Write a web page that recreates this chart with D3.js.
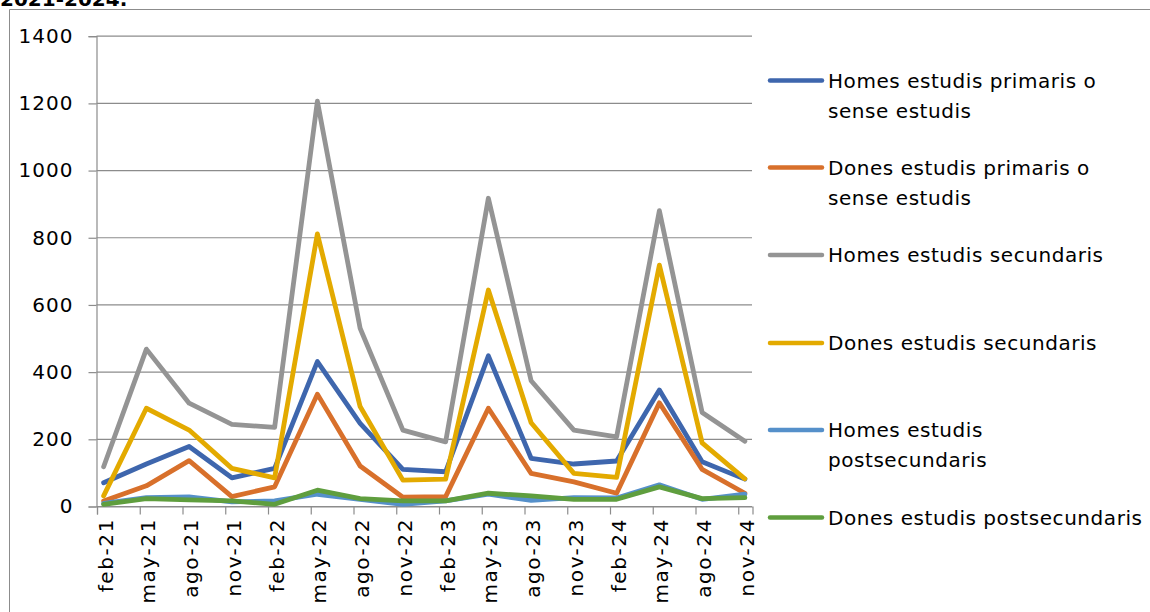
<!DOCTYPE html>
<html>
<head>
<meta charset="utf-8">
<script src="https://cdn.jsdelivr.net/npm/d3@7"></script>
<style>
  html, body { margin: 0; padding: 0; background: #fff; }
  svg { display: block; }
  text { font-family: "DejaVu Sans", sans-serif; fill: #000; }
</style>
</head>
<body>
<svg id="chart" width="1150" height="612"></svg>
<script>
const categories = ["feb-21","may-21","ago-21","nov-21","feb-22","may-22","ago-22","nov-22","feb-23","may-23","ago-23","nov-23","feb-24","may-24","ago-24","nov-24"];
const yTicks = [0, 200, 400, 600, 800, 1000, 1200, 1400];

const homesPrimaris     = [69, 125, 177, 84, 112, 430, 246, 109, 102, 447, 142, 125, 134, 345, 132, 80];
const donesPrimaris     = [15, 60, 135, 28, 57, 333, 119, 26, 28, 291, 97, 72, 38, 307, 109, 38];
const homesSecundaris   = [117, 467, 306, 243, 234, 1205, 529, 226, 191, 916, 373, 226, 206, 879, 278, 193];
const donesSecundaris   = [30, 291, 226, 112, 84, 810, 296, 77, 80, 643, 248, 97, 85, 717, 188, 81];
const homesPost         = [8, 25, 27, 12, 15, 35, 20, 5, 15, 35, 17, 25, 24, 63, 20, 35];
const donesPost         = [5, 22, 18, 15, 5, 47, 22, 15, 15, 38, 30, 20, 20, 57, 22, 25];

const seriesNames = [
  ["Homes estudis primaris o", "sense estudis"],
  ["Dones estudis primaris o", "sense estudis"],
  ["Homes estudis secundaris"],
  ["Dones estudis secundaris"],
  ["Homes estudis", "postsecundaris"],
  ["Dones estudis postsecundaris"]
];
const seriesValues = [homesPrimaris, donesPrimaris, homesSecundaris, donesSecundaris, homesPost, donesPost];
const seriesColors = ["#3E66AD", "#D8702B", "#949494", "#E3AA00", "#5590CA", "#5F9E3E"];

(function () {
const svg = d3.select("#chart");

// outer frame (partially visible)
svg.append("path")
  .attr("d", "M9.5,612 L9.5,9.5 L1150,9.5")
  .attr("fill", "none").attr("stroke", "#8c8c8c").attr("stroke-width", 1);

// cut-off title
svg.append("text").attr("x", 0).attr("y", 6)
  .attr("font-size", 20).attr("font-weight", "bold")
  .text("2021-2024.");

const pLeft = 96.5, pRight = 752, pTop = 35.7, pBottom = 506;
const x = d3.scaleLinear().domain([0, categories.length * 3 - 2]).range([pLeft, pRight]);
const y = d3.scaleLinear().domain([0, 1400]).range([pBottom, pTop]);
const px = i => x(3 * i + 0.5);

// gridlines
svg.append("g").selectAll("line").data(yTicks).join("line")
  .attr("x1", pLeft).attr("x2", pRight)
  .attr("y1", d => y(d) + 0.5).attr("y2", d => y(d) + 0.5)
  .attr("stroke", "#8c8c8c").attr("stroke-width", 1.2);

// y axis
const yAxis = svg.append("g").attr("transform", `translate(${pLeft},0.5)`)
  .call(d3.axisLeft(y).tickValues(yTicks).tickSize(8).tickPadding(15).tickFormat(d3.format("d")));
yAxis.select(".domain").attr("stroke", "#8c8c8c").attr("stroke-width", 1.2);
yAxis.selectAll(".tick line").attr("stroke", "#8c8c8c").attr("stroke-width", 1.2);
yAxis.selectAll(".tick text").attr("font-size", 20).attr("letter-spacing", 1)
  .attr("font-family", "DejaVu Sans, sans-serif").attr("fill", "#000");

// x axis ticks
const xAxis = svg.append("g").attr("transform", `translate(0.5,${pBottom + 0.5})`)
  .call(d3.axisBottom(x).tickValues(d3.range(0, categories.length * 3, 3)).tickSize(8).tickFormat(""));
xAxis.select(".domain").attr("stroke", "#8c8c8c").attr("stroke-width", 1.2);
xAxis.selectAll(".tick line").attr("stroke", "#8c8c8c").attr("stroke-width", 1.2);

// x labels
svg.append("g").selectAll("text").data(categories).join("text")
  .attr("transform", (d, i) => `translate(${px(i) + 2},${pBottom + 12}) rotate(-90)`)
  .attr("text-anchor", "end").attr("dominant-baseline", "central")
  .attr("font-size", 20).attr("letter-spacing", 1.6)
  .text(d => d);

// lines
const line = d3.line().x((d, i) => px(i)).y(d => y(d));
svg.append("g").selectAll("path").data(seriesValues).join("path")
  .attr("d", d => line(d))
  .attr("fill", "none")
  .attr("stroke", (d, i) => seriesColors[i])
  .attr("stroke-width", 4.8)
  .attr("stroke-linejoin", "round")
  .attr("stroke-linecap", "round");

// legend
const legendY = [80.5, 167.5, 255, 343, 430, 517.5];
const lg = svg.append("g");
seriesNames.forEach((names, i) => {
  const g = lg.append("g").attr("transform", `translate(0,${legendY[i]})`);
  g.append("line").attr("x1", 770).attr("x2", 822).attr("y1", 0).attr("y2", 0)
    .attr("stroke", seriesColors[i]).attr("stroke-width", 4.5).attr("stroke-linecap", "round");
  names.forEach((t, j) => {
    g.append("text").attr("x", 828).attr("y", j * 30)
      .attr("dominant-baseline", "central").attr("font-size", 20).attr("letter-spacing", 0.55)
      .text(t);
  });
});
})();
</script>
</body>
</html>
